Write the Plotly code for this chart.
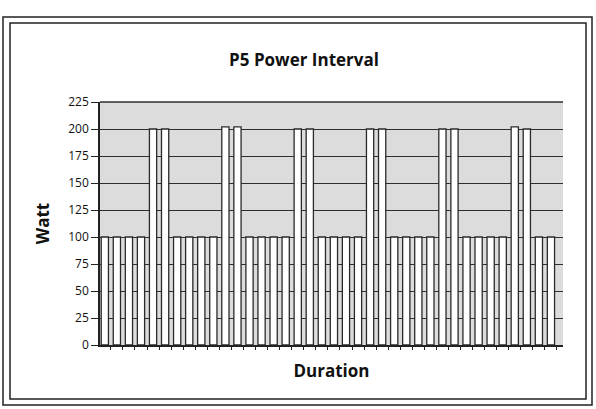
import plotly.graph_objects as go

# interval profile: 100 W base, pairs of 200 W efforts
interval_no = list(range(38))
watt = [100, 100, 100, 100, 200, 200, 100, 100, 100, 100,
        202, 202, 100, 100, 100, 100, 200, 200, 100, 100,
        100, 100, 200, 200, 100, 100, 100, 100, 200, 200,
        100, 100, 100, 100, 202, 200, 100, 100]
y_ticks = [0, 25, 50, 75, 100, 125, 150, 175, 200, 225]

W, H = 596, 409
L, R, T, B = 100, 33, 102, 64
pw, ph = W - L - R, H - T - B


def px(x):
    return (x - L) / pw


def py(y):
    return (H - B - y) / ph


fig = go.Figure()

fig.add_trace(go.Bar(
    x=interval_no,
    y=watt,
    marker=dict(color='white', line=dict(color='#2a2a2a', width=1.3)),
    showlegend=False,
))

fig.update_layout(
    width=W, height=H,
    margin=dict(l=L, r=R, t=T, b=B),
    paper_bgcolor='white',
    plot_bgcolor='#dcdcdc',
    bargap=0.4,
    font=dict(family='Open Sans, DejaVu Sans, sans-serif', color='#111'),
    title=dict(text='<b>P5 Power Interval</b>', x=304 / W, xanchor='center',
               y=1 - 60 / H, yanchor='middle', font=dict(size=17)),
    shapes=[
        dict(type='rect', xref='paper', yref='paper',
             x0=px(3), x1=px(592), y0=py(405), y1=py(17),
             line=dict(color='#222', width=1.5), layer='below'),
        dict(type='rect', xref='paper', yref='paper',
             x0=px(10), x1=px(586), y0=py(399), y1=py(23),
             line=dict(color='#222', width=1.5), layer='below'),
        dict(type='line', xref='paper', yref='paper',
             x0=0, x1=1, y0=1, y1=1,
             line=dict(color='#2e2e2e', width=1.4)),
    ],
)

fig.update_xaxes(
    range=[-0.4, 38.0],
    showticklabels=False, showgrid=False, zeroline=False,
    showline=True, linecolor='#222', linewidth=1.5,
    ticks='outside', ticklen=3, tickcolor='#222', dtick=1, tick0=0.5,
    title=dict(text='<b>Duration</b>', font=dict(size=17), standoff=16),
)
fig.update_yaxes(
    range=[0, 225], tickvals=y_ticks,
    showgrid=True, gridcolor='#2e2e2e', gridwidth=1.4, zeroline=False,
    showline=True, linecolor='#222', linewidth=1.5,
    ticks='outside', ticklen=7, tickcolor='#222',
    tickfont=dict(size=12),
    title=dict(text='<b>Watt</b>', font=dict(size=17), standoff=14),
)

fig.write_html('out.html', config={'displayModeBar': False},
               post_script="document.body.style.margin='0';")
